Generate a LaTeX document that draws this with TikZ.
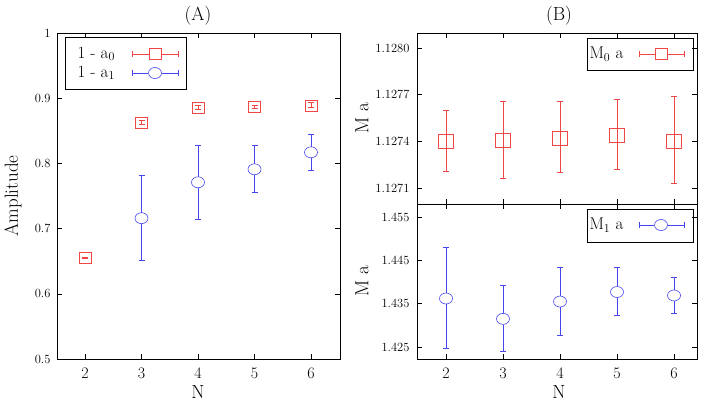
\documentclass[tikz,border=0pt]{standalone}
\usetikzlibrary{positioning}
\usetikzlibrary{shapes.geometric}
\definecolor{datred}{RGB}{240,70,70}
\definecolor{datblue}{RGB}{70,70,240}
\tikzset{
  frame/.style={line width=0.9pt},
  tick/.style={line width=0.6pt},
  ticklab/.style={font=\fontsize{12.5}{14}\selectfont},
  axlab/.style={font=\fontsize{19}{21}\selectfont},
  leglab/.style={font=\fontsize{17}{19}\selectfont, anchor=west},
  redbar/.style={draw=datred, line width=0.6pt},
  bluebar/.style={draw=datblue, line width=0.6pt},
  sq/.style={draw=datred, line width=0.6pt, rectangle, minimum width=12pt, minimum height=11pt, inner sep=0pt},
  circ/.style={draw=datblue, line width=0.6pt, ellipse, minimum width=13pt, minimum height=11pt, inner sep=0pt},
}
\begin{document}
\begin{tikzpicture}[x=1pt,y=1pt]
		\useasboundingbox (0,0) rectangle (708,-409);
		% panel A
		\draw [frame] (57,-33) rectangle (340,-359);
		\foreach \v/\t in {0/0.5,1/0.6,2/0.7,3/0.8,4/0.9,5/1} {
			\draw [tick] (57,-359+65.2*\v) -- +(5,0);
			\draw [tick] (340,-359+65.2*\v) -- +(-5,0);
			\node [ticklab, anchor=east] at (54,-359+65.2*\v) {\t};
		}
		\foreach \n in {2,...,6} {
			\draw [tick] (-28+56.5*\n,-359) -- +(0,5);
			\draw [tick] (-28+56.5*\n,-33) -- +(0,-5);
			\node [axlab, font=\fontsize{16}{18}\selectfont] at (-28+56.5*\n,-373) {\n};
		}
		\node [axlab] (titleA) at (198,-16) {(A)};
		\node [axlab] (labNA) at (198,-392) {N};
		\node [axlab, rotate=90] (labAmp) at (13,-196) {Amplitude};
		\begin{scope}[xshift=-28pt, x=56.5pt, yshift=-685pt, y=6.52pt]
			\foreach \n/\v/\lo/\hi in {2/65.5/65.4/65.6, 3/86.3/86.0/86.6, 4/88.6/88.3/88.9, 5/88.7/88.5/88.9, 6/88.9/88.6/89.3} {
				\draw [redbar] (\n,\lo) -- (\n,\hi);
				\draw [redbar] ([xshift=-3pt]\n,\lo) -- ([xshift=3pt]\n,\lo);
				\draw [redbar] ([xshift=-3pt]\n,\hi) -- ([xshift=3pt]\n,\hi);
				\node [sq] at (\n,\v) {};
			}
			\foreach \n/\v/\lo/\hi in {3/71.6/65.1/78.2, 4/77.1/71.5/82.8, 5/79.1/75.6/82.8, 6/81.7/79.0/84.5} {
				\draw [bluebar] (\n,\lo) -- (\n,{\v-0.85});
				\draw [bluebar] (\n,{\v+0.85}) -- (\n,\hi);
				\draw [bluebar] ([xshift=-3pt]\n,\lo) -- ([xshift=3pt]\n,\lo);
				\draw [bluebar] ([xshift=-3pt]\n,\hi) -- ([xshift=3pt]\n,\hi);
				\node [circ] at (\n,\v) {};
			}
		\end{scope}
		% legend A
		\draw [frame] (65,-37) rectangle (186,-89);
		\node [leglab] (legA0) at (74,-54) {1 - a$_0$};
		\node [leglab] (legA1) at (74,-73) {1 - a$_1$};
		\draw [redbar] (132,-54) -- (149,-54) (161,-54) -- (178,-54) (132,-51) -- (132,-57) (178,-51) -- (178,-57);
		\node [sq] at (155,-54) {};
		\draw [bluebar] (132,-73) -- (148,-73) (162,-73) -- (178,-73) (132,-70) -- (132,-76) (178,-70) -- (178,-76);
		\node [circ] at (155,-73) {};
		% panel B
		\draw [frame] (417,-33) rectangle (697,-359);
		\draw [frame] (417,-204) -- (697,-204);
		\foreach \n in {2,...,6} {
			\draw [tick] (332+57*\n,-359) -- +(0,5);
			\draw [tick] (332+57*\n,-33) -- +(0,-5);
			\draw [tick] (332+57*\n,-204) -- +(0,5);
			\draw [tick] (332+57*\n,-204) -- +(0,-5);
			\node [axlab, font=\fontsize{16}{18}\selectfont] at (332+57*\n,-373) {\n};
		}
		\foreach \p/\t in {48/1.1280,94.7/1.1277,141.4/1.1274,188/1.1271, 217/1.455,260.3/1.445,303.7/1.435,347/1.425} {
			\draw [tick] (417,-\p) -- +(5,0);
			\draw [tick] (697,-\p) -- +(-5,0);
			\node [ticklab, anchor=east] at (413,-\p) {\t};
		}
		\node [axlab] (titleB) at (559,-16) {(B)};
		\node [axlab] (labNB) at (559,-392) {N};
		\node [axlab, rotate=90] (labMa0) at (362,-118) {M a};
		\node [axlab, rotate=90] (labMa1) at (362,-281) {M a};
		\begin{scope}[xshift=332pt, x=57pt, yshift=-203.6pt, y=15.56pt]
			\foreach \n/\v/\lo/\hi in {2/4.0/2.1/6.0, 3/4.1/1.6/6.6, 4/4.2/2.0/6.6, 5/4.4/2.2/6.7, 6/4.0/1.3/6.9} {
				\draw [redbar] (\n,\lo) -- (\n,\hi);
				\draw [redbar] ([xshift=-3pt]\n,\lo) -- ([xshift=3pt]\n,\lo);
				\draw [redbar] ([xshift=-3pt]\n,\hi) -- ([xshift=3pt]\n,\hi);
				\node [sq, minimum width=15pt, minimum height=14pt] at (\n,\v) {};
			}
		\end{scope}
		\begin{scope}[xshift=332pt, x=57pt, yshift=-368.7pt, y=4.333pt]
			\foreach \n/\v/\lo/\hi in {2/16.2/4.8/28.0, 3/11.5/4.0/19.2, 4/15.5/7.7/23.4, 5/17.7/12.3/23.3, 6/16.9/12.8/21.2} {
				\draw [bluebar] (\n,\lo) -- (\n,{\v-1.3});
				\draw [bluebar] (\n,{\v+1.3}) -- (\n,\hi);
				\draw [bluebar] ([xshift=-3pt]\n,\lo) -- ([xshift=3pt]\n,\lo);
				\draw [bluebar] ([xshift=-3pt]\n,\hi) -- ([xshift=3pt]\n,\hi);
				\node [circ] at (\n,\v) {};
			}
		\end{scope}
		% legends B
		\draw [frame] (587,-38) rectangle (693,-70);
		\node [leglab] (legB0) at (586,-54) {M$_0$ a};
		\draw [redbar] (639,-54) -- (655,-54) (667,-54) -- (684,-54) (639,-51) -- (639,-57) (684,-51) -- (684,-57);
		\node [sq] at (661,-54) {};
		\draw [frame] (587,-209) rectangle (693,-242);
		\node [leglab] (legB1) at (586,-225) {M$_1$ a};
		\draw [bluebar] (639,-225) -- (654,-225) (668,-225) -- (684,-225) (639,-222) -- (639,-228) (684,-222) -- (684,-228);
		\node [circ] at (661,-225) {};
	\end{tikzpicture}
\end{document}
